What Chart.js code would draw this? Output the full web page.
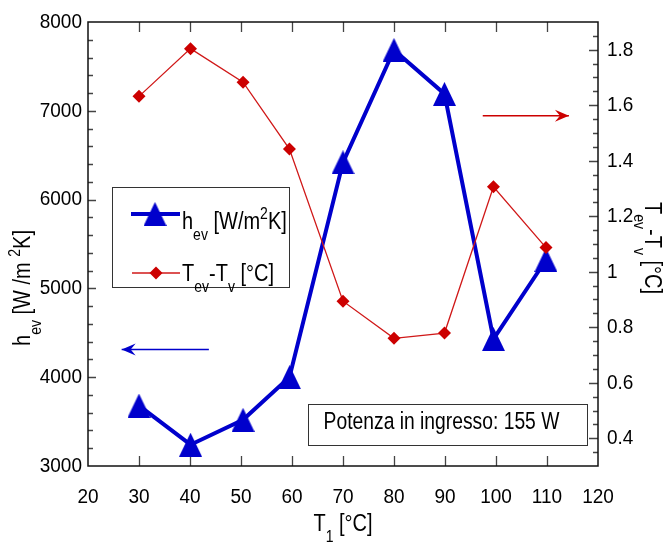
<!DOCTYPE html>
<html><head><meta charset="utf-8">
<script src="https://cdn.jsdelivr.net/npm/chart.js@4.4.0/dist/chart.umd.min.js"></script>
<style>html,body{margin:0;padding:0;background:#fff}#wrap{width:671px;height:548px;position:relative}</style>
</head><body><div id="wrap"><canvas id="c" width="671" height="548"></canvas></div>
<script>
// ---- data ----
const T1 = [30, 40.1, 50.4, 59.5, 70, 80, 89.9, 99.5, 109.8];
const H_EV = [3680, 3240, 3520, 4000, 6420, 7685, 7190, 4430, 5320];
const DT_EV_V = [1.632, 1.804, 1.683, 1.442, 0.894, 0.760, 0.779, 1.306, 1.087];
const X_TICKS = [20, 30, 40, 50, 60, 70, 80, 90, 100, 110, 120];
const LEFT_TICKS = [3000, 4000, 5000, 6000, 7000, 8000];
const RIGHT_TICKS = [0.4, 0.6, 0.8, 1, 1.2, 1.4, 1.6, 1.8];
const RIGHT_TICK_LABELS = ['0.4', '0.6', '0.8', '1', '1.2', '1.4', '1.6', '1.8'];
const ANNOTATION = 'Potenza in ingresso: 155 W';
const ARROW_RIGHT = {x0: 97.4, x1: 114.3, y: 1.562};
const ARROW_LEFT = {x0: 43.7, x1: 26.6, y: 4313};

const FAM = '"Liberation Sans", Arial, sans-serif';
const TICK_SIZE = 19;
const BIG = 20;
const SUB = 14;
const SY = 1.15;      // vertical stretch of reference lettering

const BLUE = '#0000CC';
const RED = '#CC0000';

function triCanvas(w, h, color) {
  const c = document.createElement('canvas');
  c.width = w; c.height = h;
  const g = c.getContext('2d');
  g.fillStyle = color;
  g.beginPath(); g.moveTo(w / 2, 0); g.lineTo(w, h); g.lineTo(0, h); g.closePath(); g.fill();
  return c;
}
const TRI = triCanvas(23, 24, BLUE);

function runsWidth(ctx, runs) {
  let w = 0;
  for (const r of runs) { ctx.font = r.size + 'px ' + FAM; w += ctx.measureText(r.t).width; }
  return w;
}
function drawRuns(ctx, x, y, runs) {
  let cx = x;
  for (const r of runs) {
    ctx.font = r.size + 'px ' + FAM;
    ctx.save(); ctx.translate(cx, y + (r.dy || 0)); ctx.scale(1, SY);
    ctx.fillText(r.t, 0, 0);
    ctx.restore();
    cx += ctx.measureText(r.t).width;
  }
}
const RUNS_H_AX = [{t: 'h', size: BIG}, {t: 'ev', size: SUB, dy: 11}, {t: ' [W /m ', size: BIG}, {t: '2', size: SUB, dy: -10}, {t: 'K]', size: BIG}];
const RUNS_H = [{t: 'h', size: BIG}, {t: 'ev', size: SUB, dy: 11}, {t: ' [W/m', size: BIG}, {t: '2', size: SUB, dy: -10}, {t: 'K]', size: BIG}];
const RUNS_T = [{t: 'T', size: BIG}, {t: 'ev', size: SUB, dy: 11}, {t: '-T', size: BIG}, {t: 'v', size: SUB, dy: 11}, {t: ' [°C]', size: BIG}];
const RUNS_X = [{t: 'T', size: BIG}, {t: '1', size: SUB, dy: 11}, {t: ' [°C]', size: BIG}];

function arrow(ctx, x0, x1, y, color) {
  ctx.save();
  ctx.strokeStyle = color; ctx.fillStyle = color; ctx.lineWidth = 1.5;
  ctx.beginPath(); ctx.moveTo(x0, y); ctx.lineTo(x1, y); ctx.stroke();
  const d = Math.sign(x1 - x0);
  ctx.beginPath();
  ctx.moveTo(x1, y);
  ctx.lineTo(x1 - d * 14, y - 6);
  ctx.lineTo(x1 - d * 9, y);
  ctx.lineTo(x1 - d * 14, y + 6);
  ctx.closePath(); ctx.fill();
  ctx.restore();
}

// stretch the library's tick labels vertically like the reference lettering
let origFill = null;
const stretch = {
  id: 'stretch',
  beforeDraw(chart) {
    const ctx = chart.ctx;
    origFill = ctx.fillText;
    ctx.fillText = function (t, x, y, mw) {
      this.save(); this.translate(x, y); this.scale(1, 1.1);
      origFill.call(this, t, 0, 0, mw);
      this.restore();
    };
  },
  beforeDatasetsDraw(chart) {
    if (origFill) { delete chart.ctx.fillText; if (chart.ctx.fillText !== origFill) chart.ctx.fillText = origFill; }
  }
};

const decor = {
  id: 'decor',
  beforeDatasetsDraw(chart) {
    const {ctx, chartArea: a, scales} = chart;
    ctx.save();
    ctx.strokeStyle = '#444'; ctx.lineWidth = 1.3;
    ctx.beginPath();
    for (let v = 30; v <= 110; v += 10) {
      const px = Math.round(scales.x.getPixelForValue(v)) + 0.5;
      ctx.moveTo(px, a.bottom); ctx.lineTo(px, a.bottom - 10);
      ctx.moveTo(px, a.top); ctx.lineTo(px, a.top + 10);
    }
    for (let v = 3200; v < 8000; v += 200) {
      const py = Math.round(scales.y.getPixelForValue(v)) + 0.5;
      const len = v % 1000 === 0 ? 8 : 5;
      ctx.moveTo(a.left, py); ctx.lineTo(a.left + len, py);
    }
    for (let k = 1; k < 32; k++) {
      const v = 0.3 + 0.05 * k;
      const py = Math.round(scales.y1.getPixelForValue(v)) + 0.5;
      const major = Math.abs(v * 5 - Math.round(v * 5)) < 1e-6;
      const len = major ? 9 : 5;
      ctx.moveTo(a.right, py); ctx.lineTo(a.right - len, py);
    }
    ctx.stroke();
    ctx.strokeStyle = '#111'; ctx.lineWidth = 1.5;
    ctx.strokeRect(a.left, a.top, a.right - a.left, a.bottom - a.top);
    ctx.restore();
  },
  afterDatasetsDraw(chart) {
    const {ctx, scales} = chart;
    ctx.save();
    ctx.fillStyle = '#000';
    ctx.textBaseline = 'alphabetic';
    // axis titles
    let w = runsWidth(ctx, RUNS_X);
    drawRuns(ctx, 343 - w / 2, 531, RUNS_X);
    ctx.save(); ctx.translate(30, 288); ctx.rotate(-Math.PI / 2);
    w = runsWidth(ctx, RUNS_H_AX); drawRuns(ctx, -w / 2, 0, RUNS_H_AX); ctx.restore();
    ctx.save(); ctx.translate(645, 248); ctx.rotate(Math.PI / 2);
    w = runsWidth(ctx, RUNS_T); drawRuns(ctx, -w / 2, 0, RUNS_T); ctx.restore();
    // arrows
    arrow(ctx, scales.x.getPixelForValue(ARROW_RIGHT.x0), scales.x.getPixelForValue(ARROW_RIGHT.x1), scales.y1.getPixelForValue(ARROW_RIGHT.y), RED);
    arrow(ctx, scales.x.getPixelForValue(ARROW_LEFT.x0), scales.x.getPixelForValue(ARROW_LEFT.x1), scales.y.getPixelForValue(ARROW_LEFT.y), BLUE);
    // legend box
    ctx.fillStyle = '#fff'; ctx.fillRect(112, 187, 178, 101);
    ctx.strokeStyle = '#333'; ctx.lineWidth = 1;
    ctx.strokeRect(112.5, 187.5, 177, 100);
    ctx.strokeStyle = BLUE; ctx.lineWidth = 4;
    ctx.beginPath(); ctx.moveTo(131, 214); ctx.lineTo(180, 214); ctx.stroke();
    ctx.drawImage(TRI, 155 - 11.5, 214 - 12);
    ctx.strokeStyle = '#D01818'; ctx.lineWidth = 1.3;
    ctx.beginPath(); ctx.moveTo(132, 273); ctx.lineTo(180, 273); ctx.stroke();
    ctx.fillStyle = RED;
    ctx.beginPath(); ctx.moveTo(156, 266.5); ctx.lineTo(162.5, 273); ctx.lineTo(156, 279.5); ctx.lineTo(149.5, 273); ctx.closePath(); ctx.fill();
    ctx.fillStyle = '#000';
    drawRuns(ctx, 182, 229, RUNS_H);
    drawRuns(ctx, 182, 281, RUNS_T);
    // annotation box
    ctx.strokeStyle = '#333'; ctx.lineWidth = 1;
    ctx.strokeRect(308.5, 404.5, 279, 41);
    ctx.font = '19.3px ' + FAM;
    const aw = ctx.measureText(ANNOTATION).width;
    ctx.save(); ctx.translate(441.5 - aw / 2, 428.5); ctx.scale(1, 1.2); ctx.fillText(ANNOTATION, 0, 0); ctx.restore();
    ctx.restore();
  }
};

const tickFont = {family: FAM, size: TICK_SIZE};
new Chart(document.getElementById('c'), {
  type: 'line',
  data: {
    datasets: [
      {
        label: 'Tev-Tv [°C]',
        data: T1.map((x, i) => ({x, y: DT_EV_V[i]})),
        yAxisID: 'y1',
        borderColor: '#D01818', backgroundColor: RED, borderWidth: 1.3,
        pointStyle: 'rectRot', pointRadius: 6.5, pointBorderWidth: 0,
        tension: 0, order: 0
      },
      {
        label: 'hev [W/m2K]',
        data: T1.map((x, i) => ({x, y: H_EV[i]})),
        yAxisID: 'y',
        borderColor: BLUE, backgroundColor: BLUE, borderWidth: 4,
        pointStyle: TRI, pointRadius: 12,
        tension: 0, order: 1
      }
    ]
  },
  options: {
    responsive: false, animation: false,
    layout: {padding: {top: 22, left: 0, right: 0, bottom: 0}},
    plugins: {legend: {display: false}, tooltip: {enabled: false}},
    scales: {
      x: {
        type: 'linear', position: 'bottom', min: 20, max: 120,
        grid: {display: false, drawTicks: false}, border: {display: false},
        afterBuildTicks: s => { s.ticks = X_TICKS.map(v => ({value: v})); },
        afterFit: s => { s.height = 82; },
        ticks: {font: tickFont, color: '#000', padding: 20, maxRotation: 0, autoSkip: false}
      },
      y: {
        type: 'linear', position: 'left', min: 3000, max: 8000,
        grid: {display: false, drawTicks: false}, border: {display: false},
        afterBuildTicks: s => { s.ticks = LEFT_TICKS.map(v => ({value: v})); },
        afterFit: s => { s.width = 88; },
        ticks: {font: tickFont, color: '#000', padding: 6, callback: v => String(v)}
      },
      y1: {
        type: 'linear', position: 'right', min: 0.3, max: 1.9,
        grid: {display: false, drawTicks: false}, border: {display: false},
        afterBuildTicks: s => { s.ticks = RIGHT_TICKS.map(v => ({value: v})); },
        afterFit: s => { s.width = 73; },
        ticks: {font: tickFont, color: '#000', padding: 9, callback: (v, i) => RIGHT_TICK_LABELS[i]}
      }
    }
  },
  plugins: [stretch, decor]
});
</script></body></html>
